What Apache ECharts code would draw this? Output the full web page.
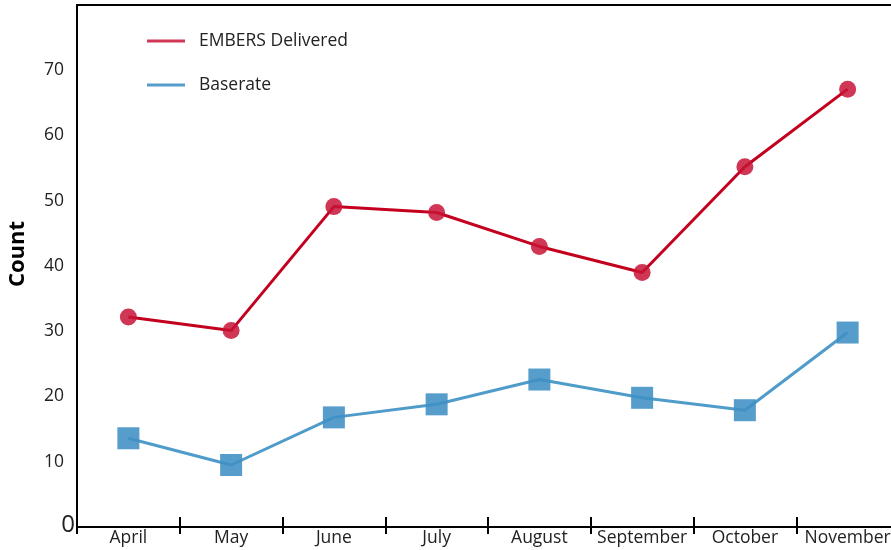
<!DOCTYPE html>
<html>
<head>
<meta charset="utf-8">
<script src="https://cdn.jsdelivr.net/npm/echarts@6/dist/echarts.min.js"></script>
<style>
  html, body { margin: 0; padding: 0; background: #fff; }
  #chart { width: 891px; height: 550px; }
</style>
</head>
<body>
<div id="chart"></div>
<script>
// months on the x axis
const months = ['April', 'May', 'June', 'July', 'August', 'September', 'October', 'November'];
// counts
const embers = [32.2, 30.1, 49.1, 48.2, 43.0, 39.0, 55.2, 67.1];
const baserate = [13.6, 9.5, 16.8, 18.8, 22.6, 19.8, 17.9, 29.8];
const yTicks = [0, 10, 20, 30, 40, 50, 60, 70, 80];

const font = 'Open Sans';
const chart = echarts.init(document.getElementById('chart'));

chart.setOption({
  animation: false,
  textStyle: { fontFamily: font },
  grid: {
    left: 77, right: -8, top: 5, bottom: 23,
    outerBoundsMode: 'none',
    containLabel: false,
    show: true, borderColor: '#000', borderWidth: 2
  },
  legend: {
    orient: 'vertical',
    left: 142, top: 27,
    itemGap: 26,
    itemWidth: 38, itemHeight: 3,
    icon: 'rect',
    textStyle: { fontSize: 17.5, color: '#222', fontFamily: font, padding: [0, 0, 0, 9] },
    data: ['EMBERS Delivered', 'Baserate']
  },
  xAxis: [{
    type: 'category',
    data: months,
    boundaryGap: true,
    axisLine: { lineStyle: { color: '#000', width: 2 } },
    axisTick: { show: false },
    axisLabel: { interval: 0, fontSize: 17.5, color: '#222', margin: 2 },
    splitLine: { show: false }
  }, {
    // second axis only draws the ticks that cross the axis line
    type: 'category',
    data: months,
    position: 'bottom',
    offset: -10,
    gridIndex: 0,
    boundaryGap: true,
    axisLine: { show: false },
    axisTick: { show: true, interval: 0, length: 17, lineStyle: { color: '#000', width: 2 } },
    axisLabel: { show: false },
    splitLine: { show: false }
  }],
  yAxis: {
    type: 'value',
    min: yTicks[0], max: yTicks[yTicks.length - 1], interval: 10,
    name: 'Count',
    nameLocation: 'middle',
    nameGap: 48,
    nameTextStyle: { fontSize: 22, fontWeight: 'bold', color: '#000', fontFamily: font, padding: [0, 0, 0, 24] },
    axisLine: { show: true, lineStyle: { color: '#000', width: 2 } },
    axisTick: { show: false },
    splitLine: { show: false },
    axisLabel: {
      showMaxLabel: false,
      fontSize: 17.5, color: '#222', margin: 13,
      formatter: v => v === 0 ? '{z|0}' : String(v),
      rich: { z: { fontSize: 24, color: '#222', fontFamily: font, padding: [0, -11, 4, 0] } }
    }
  },
  series: [{
    name: 'EMBERS Delivered',
    type: 'line',
    data: embers,
    symbol: 'circle',
    symbolSize: 17,
    color: '#c4001f',
    lineStyle: { color: '#c4001f', width: 3 },
    itemStyle: { color: 'rgba(200, 20, 55, 0.85)' },
    z: 3
  }, {
    name: 'Baserate',
    type: 'line',
    data: baserate,
    symbol: 'rect',
    symbolSize: 22,
    color: '#4f9ccb',
    lineStyle: { color: '#4f9ccb', width: 3 },
    itemStyle: { color: 'rgba(64, 144, 196, 0.88)' },
    z: 2
  }]
});
</script>
</body>
</html>
